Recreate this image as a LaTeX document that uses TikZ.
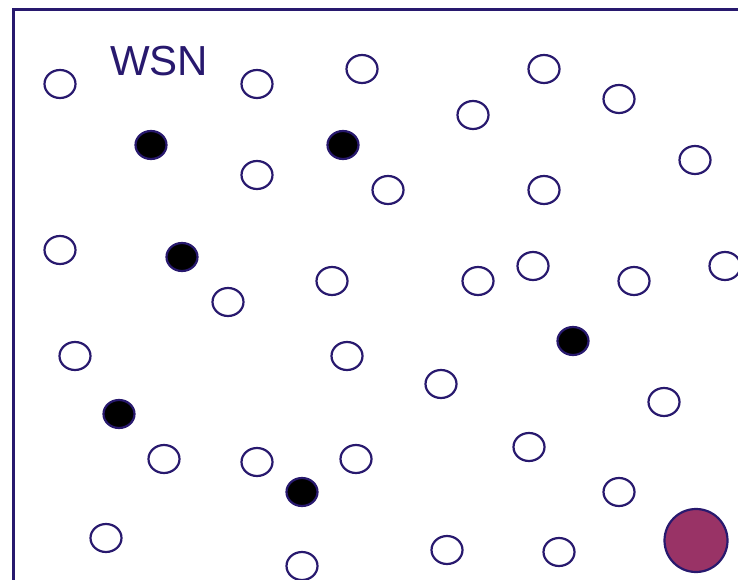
\documentclass[tikz,border=0pt]{standalone}
\usepackage{fontspec}
\setmainfont{Liberation Sans}
\usetikzlibrary{shapes.geometric}
\definecolor{edge}{RGB}{40,25,110}
\definecolor{sinkfill}{RGB}{153,51,102}
\tikzset{
  sensor/.style={ellipse,draw=edge,line width=2.2pt,fill=white,minimum width=31pt,minimum height=28pt,inner sep=0pt},
  active/.style={sensor,fill=black},
  sink/.style={circle,draw=edge,line width=2.2pt,fill=sinkfill,minimum size=63pt,inner sep=0pt},
  frame/.style={draw=edge,line width=2.2pt}
}
\begin{document}
\begin{tikzpicture}[x=1pt,y=-1pt]
\clip (0,0) rectangle (738,580);
\fill[white] (0,0) rectangle (738,580);
\draw[frame] (13.5,800) -- (13.5,9.5) -- (800,9.5);
\node[anchor=base west,text=edge,font=\fontsize{42}{42}\selectfont,inner sep=0pt] (title) at (110,76) {WSN};
% open sensors
\foreach \n/\x/\y in {s1/60/84, s2/257/84, s3/362/69, s4/544/69, s5/473/115, s6/619/99,
  s7/257/175, s8/388/190, s9/544/190, s10/695/160, s11/60/250, s12/332/281, s13/228/302,
  s14/478/281, s15/533/266, s16/634/281, s17/725/266, s18/75/356, s19/347/356, s20/441/384,
  s21/664/402, s22/164/459, s23/257/462, s24/356/459, s25/529/447, s26/619/492, s27/106/538,
  s28/302/566, s29/447/550, s30/559/552}
  \node[sensor] (\n) at (\x,\y) {};
% active sensors
\foreach \n/\x/\y in {a1/151/145, a2/343/145, a3/182/257, a4/573/341, a5/119/414, a6/302/492}
  \node[active] (\n) at (\x,\y) {};
\node[sink] (sink) at (696,540.5) {};
\end{tikzpicture}
\end{document}
